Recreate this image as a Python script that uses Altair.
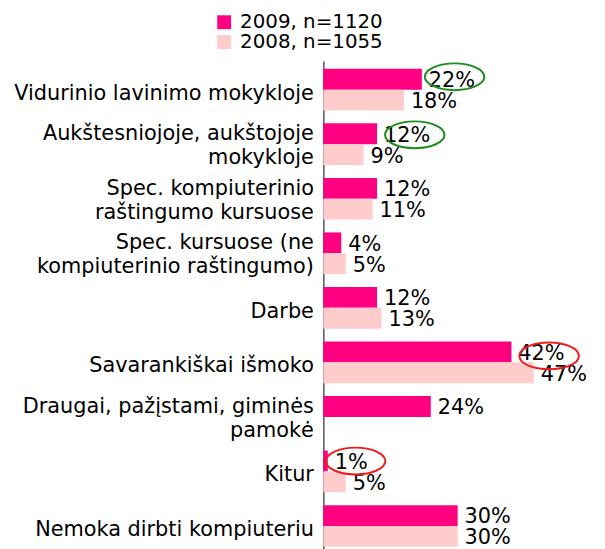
import altair as alt
import pandas as pd

categories = [
    "Vidurinio lavinimo mokykloje",
    "Aukštesniojoje, aukštojoje|mokykloje",
    "Spec. kompiuterinio|raštingumo kursuose",
    "Spec. kursuose (ne|kompiuterinio raštingumo)",
    "Darbe",
    "Savarankiškai išmoko",
    "Draugai, pažįstami, giminės|pamokė",
    "Kitur",
    "Nemoka dirbti kompiuteriu",
]
series = ["2009, n=1120", "2008, n=1055"]
values_2009 = [22, 12, 12, 4, 12, 42, 24, 1, 30]
values_2008 = [18, 9, 11, 5, 13, 47, None, 5, 30]
colors = ["#FF0080", "#FFCCCC"]

rows = []
for c, v in zip(categories, values_2009):
    rows.append({"category": c, "series": series[0], "value": v})
for c, v in zip(categories, values_2008):
    if v is not None:
        rows.append({"category": c, "series": series[1], "value": v})
df = pd.DataFrame(rows)
df["label"] = df["value"].astype(int).astype(str) + "%"

# annotation rings: (category index, colour, x shift px, y shift px)
rings = [
    (0, "#1E8C1E", 33, -13),
    (1, "#1E8C1E", 38, -9.5),
    (5, "#EE1C1C", 38, -6.5),
    (7, "#EE1C1C", 28, -10.5),
]

FONT = "DejaVu Sans"

y_enc = alt.Y(
    "category:N",
    sort=categories,
    scale=alt.Scale(paddingInner=0.236, paddingOuter=0.145),
    axis=alt.Axis(
        title=None,
        labelExpr="split(datum.label, '|')",
        labelFont=FONT,
        labelFontSize=21,
        labelLineHeight=24,
        labelColor="#000000",
        labelPadding=10,
        labelLimit=400,
        labelOffset={
            "condition": {"test": "indexof(datum.value, '|') >= 0", "value": -10},
            "value": 4,
        },
        ticks=False,
        domainColor="#555555",
        domainWidth=1.5,
        minExtent=312,
        maxExtent=312,
    ),
)
x_enc = alt.X("value:Q", scale=alt.Scale(domain=[0, 60]), axis=None)
yoff = alt.YOffset("series:N", sort=series, scale=alt.Scale(paddingInner=0, paddingOuter=0))

base = alt.Chart(df)

bars = base.mark_bar().encode(
    x=x_enc,
    y=y_enc,
    yOffset=yoff,
    color=alt.Color(
        "series:N",
        sort=series,
        scale=alt.Scale(domain=series, range=colors),
        legend=alt.Legend(
            title=None,
            orient="none",
            legendX=-110,
            legendY=-49,
            direction="vertical",
            symbolType="square",
            symbolSize=196,
            symbolStrokeWidth=0,
            labelFont=FONT,
            labelFontSize=20,
            labelColor="#000000",
            labelOffset=6,
            rowPadding=-2,
        ),
    ),
)

labels = base.mark_text(
    align="left", baseline="middle", dx=7, dy=2, font=FONT, fontSize=21, color="#000000"
).encode(x=x_enc, y=y_enc, yOffset=yoff, text="label:N")

ellipse = "M -1 0 A 1 0.45 0 1 1 1 0 A 1 0.45 0 1 1 -1 0 Z"
ring_layers = []
for idx, col, sx, sy in rings:
    ring_layers.append(
        base.transform_filter(
            (alt.datum.category == categories[idx]) & (alt.datum.series == series[0])
        )
        .mark_point(
            shape=ellipse, size=3600, filled=False, stroke=col, strokeWidth=2,
            opacity=1, xOffset=sx, yOffset=sy,
        )
        .encode(x=x_enc, y=y_enc)
    )

chart = alt.layer(bars, labels, *ring_layers).properties(
    width=271,
    height=498,
    padding={"left": 5, "top": 2, "right": 5, "bottom": 5},
).configure_view(stroke=None)

chart.save("out.html", embed_options={"renderer": "svg", "actions": False})
